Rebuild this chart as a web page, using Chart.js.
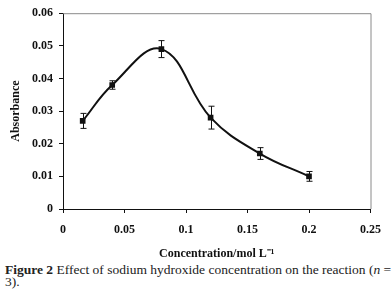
<!DOCTYPE html>
<html><head><meta charset="utf-8">
<script src="https://cdn.jsdelivr.net/npm/chart.js@4/dist/chart.umd.min.js"></script>
<style>
html,body{margin:0;padding:0;background:#fff;width:391px;height:298px;overflow:hidden}
#wrap{position:absolute;left:0;top:0;width:391px;height:262px}
#cap{position:absolute;left:5px;top:264px;width:386px;font-family:"Liberation Serif","Times New Roman",serif;font-size:13.5px;line-height:12px;color:#222;white-space:nowrap}
</style></head><body>
<div id="wrap"><canvas id="c"></canvas></div>
<div id="cap"><b>Figure 2</b> Effect of sodium hydroxide concentration on the reaction (<i>n</i> =<br>3).</div>
<script>
const concentrations = [0.016, 0.04, 0.08, 0.12, 0.16, 0.2];
const absorbance = [0.027, 0.038, 0.049, 0.028, 0.017, 0.010];
const errors = [0.0023, 0.0013, 0.0026, 0.0035, 0.0018, 0.0015];
const xTicks = [0, 0.05, 0.1, 0.15, 0.2, 0.25];
const yTicks = [0, 0.01, 0.02, 0.03, 0.04, 0.05, 0.06];

const font = {family:"Liberation Serif", weight:"bold", size:12};

const errorBars = {
  id:'errorBars',
  afterDatasetsDraw(chart){
    const {ctx, scales:{x,y}} = chart;
    ctx.save();
    ctx.strokeStyle='#111'; ctx.lineWidth=1;
    concentrations.forEach((cx,i)=>{
      const px = Math.round(x.getPixelForValue(cx))+0.5;
      const top = y.getPixelForValue(absorbance[i]+errors[i]);
      const bot = y.getPixelForValue(absorbance[i]-errors[i]);
      ctx.beginPath();
      ctx.moveTo(px,top); ctx.lineTo(px,bot);
      ctx.moveTo(px-3,top); ctx.lineTo(px+3,top);
      ctx.moveTo(px-3,bot); ctx.lineTo(px+3,bot);
      ctx.stroke();
    });
    ctx.restore();
  }
};
const frame = {
  id:'frame',
  beforeDatasetsDraw(chart){
    const {ctx, chartArea:a} = chart;
    ctx.save();
    ctx.strokeStyle='#8a8a8a'; ctx.lineWidth=1;
    ctx.beginPath();
    ctx.moveTo(a.left, a.top+0.5); ctx.lineTo(a.right+0.5, a.top+0.5); ctx.lineTo(a.right+0.5, a.bottom);
    ctx.stroke();
    ctx.restore();
  }
};

new Chart(document.getElementById('c'), {
  type:'scatter',
  data:{datasets:[{
    data: concentrations.map((v,i)=>({x:v,y:absorbance[i]})),
    showLine:true, tension:0.4,
    borderColor:'#111', borderWidth:2,
    pointStyle:'rect', pointRadius:4, pointBackgroundColor:'#111', pointBorderColor:'#111', pointBorderWidth:0
  }]},
  options:{
    responsive:true, maintainAspectRatio:false, animation:false,
    layout:{padding:{left:0, top:9, right:19, bottom:0}},
    plugins:{legend:{display:false}, tooltip:{enabled:false}},
    scales:{
      x:{type:'linear', min:0, max:0.25,
        afterBuildTicks(s){ s.ticks = xTicks.map(v=>({value:v})); },
        afterFit(s){ s.height = 53; },
        ticks:{font, color:'#111', padding:10, autoSkip:false, maxRotation:0, callback:(v)=>String(v)},
        grid:{drawOnChartArea:false, drawTicks:true, tickLength:4, color:'#111'},
        border:{color:'#111', width:1},
        title:{display:true, text:'Concentration/mol L\u207B\u00B9', font, color:'#111', padding:{top:0,bottom:1}}
      },
      y:{type:'linear', min:0, max:0.06,
        afterBuildTicks(s){ s.ticks = yTicks.map(v=>({value:v})); },
        afterFit(s){ s.width = 63; },
        ticks:{font, color:'#111', padding:6, autoSkip:false, callback:(v)=>String(v)},
        grid:{drawOnChartArea:false, drawTicks:true, tickLength:4, color:'#111'},
        border:{color:'#111', width:1},
        title:{display:true, text:'Absorbance', font, color:'#111', padding:{top:8.5,bottom:0}}
      }
    }
  },
  plugins:[frame, errorBars]
});
</script>
</body></html>
